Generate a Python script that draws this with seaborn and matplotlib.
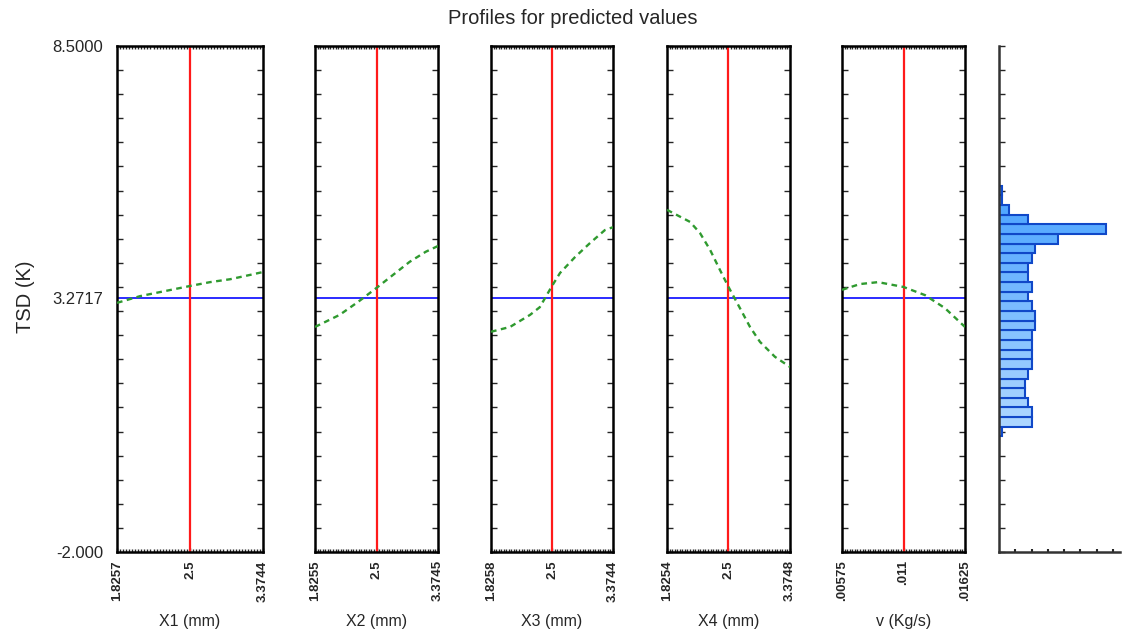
import numpy as np
import pandas as pd
import matplotlib
matplotlib.use("Agg")
import matplotlib.pyplot as plt
import seaborn as sns
from matplotlib.colors import to_rgb

sns.set_style("white")
plt.rcParams["font.family"] = ["Liberation Sans", "DejaVu Sans"]

# ---- data ---------------------------------------------------------------
y_min, y_max = -2.0, 8.5
y_ref = 3.2717                       # reference level of the response

factor_names = ["X1 (mm)", "X2 (mm)", "X3 (mm)", "X4 (mm)", "v (Kg/s)"]
factor_low = [1.8257, 1.8255, 1.8258, 1.8254, 0.00575]
factor_mid = [2.5, 2.5, 2.5, 2.5, 0.011]
factor_high = [3.3744, 3.3745, 3.3744, 3.3748, 0.01625]
tick_text = [
    ["1.8257", "2.5", "3.3744"],
    ["1.8255", "2.5", "3.3745"],
    ["1.8258", "2.5", "3.3744"],
    ["1.8254", "2.5", "3.3748"],
    [".00575", ".011", ".01625"],
]

# predicted profile of TSD along each factor
x1_vals = [1.8257, 2.04, 2.5, 2.74, 2.98, 3.22, 3.3744]
x1_pred = [3.17, 3.31, 3.52, 3.60, 3.66, 3.75, 3.81]

x2_vals = [1.8255, 2.095, 2.298, 2.5, 2.97, 3.20, 3.3745]
x2_pred = [2.67, 2.92, 3.19, 3.48, 4.02, 4.23, 4.35]

x3_vals = [1.8258, 2.036, 2.257, 2.365, 2.5, 2.615, 2.83, 3.044, 3.258, 3.3744]
x3_pred = [2.57, 2.67, 2.92, 3.08, 3.52, 3.79, 4.12, 4.41, 4.68, 4.74]

x4_vals = [1.8254, 2.078, 2.187, 2.298, 2.407, 2.5, 2.663, 2.806, 2.948, 3.161, 3.3748]
x4_pred = [5.10, 4.85, 4.62, 4.27, 3.85, 3.50, 3.06, 2.67, 2.36, 2.05, 1.84]

v_vals = [0.00575, 0.00728, 0.00883, 0.011, 0.01284, 0.01454, 0.01625]
v_pred = [3.44, 3.56, 3.60, 3.50, 3.33, 3.06, 2.67]

profiles = [(x1_vals, x1_pred), (x2_vals, x2_pred), (x3_vals, x3_pred),
            (x4_vals, x4_pred), (v_vals, v_pred)]

# distribution of observed TSD values (bins of 0.2 K from 0.4 K upward)
hist_start = 0.4
hist_bin = 0.2
hist_counts = [1, 10, 10, 9, 8, 8, 9, 10, 10, 10, 10, 11, 11, 10, 9, 10, 9, 9,
               10, 11, 18, 33, 9, 3, 1, 1]

# ---- layout -------------------------------------------------------------
W, H = 1124, 629
fig = plt.figure(figsize=(W / 100, H / 100), dpi=100)

panel_px = [(117, 146), (315, 123), (491, 122), (667, 123), (842, 123)]
top_px, bot_px = 46, 552


def rect(x0, w):
    return [x0 / W, 1 - bot_px / H, w / W, (bot_px - top_px) / H]


def centred_scale(lo, mid, hi):
    def fwd(x):
        x = np.asarray(x, float)
        return np.where(x < mid, 0.5 * (x - lo) / (mid - lo),
                        0.5 + 0.5 * (x - mid) / (hi - mid))

    def inv(u):
        u = np.asarray(u, float)
        return np.where(u < 0.5, lo + 2 * u * (mid - lo),
                        mid + (2 * u - 1) * (hi - mid))
    return fwd, inv


text_col = "#262626"
green = "#2f9a2f"

for i, (name, lo, mid, hi, labels, (xs, ys)) in enumerate(
        zip(factor_names, factor_low, factor_mid, factor_high, tick_text, profiles)):
    ax = fig.add_axes(rect(*panel_px[i]))
    fwd, inv = centred_scale(lo, mid, hi)
    ax.set_xscale("function", functions=(fwd, inv))
    ax.set_xlim(lo, hi)
    ax.set_ylim(y_min, y_max)

    df = pd.DataFrame({"x": xs, "y": ys})
    ax.axhline(y_ref, color="#1a1aff", lw=1.3, zorder=2)
    ax.axvline(mid, color="#ff1a1a", lw=1.6, zorder=2)
    sns.lineplot(data=df, x="x", y="y", ax=ax, color=green, lw=1.7,
                 zorder=3, sort=False)
    ax.lines[-1].set_dashes((2.4, 1.9))

    ax.set_xticks([lo, mid, hi])
    ax.set_xticklabels(labels, rotation=90, fontsize=9.5, fontweight="bold",
                       color=text_col)
    ax.set_xticks(inv(np.linspace(0, 1, 49)), minor=True)
    ax.set_yticks(np.arange(y_min, y_max + 0.01, 0.5), minor=True)
    if i == 0:
        ax.set_yticks([y_min, y_ref, y_max])
        ax.set_yticklabels(["-2.000", "3.2717", "8.5000"], fontsize=12,
                           color=text_col)
    else:
        ax.set_yticks([])
    ax.tick_params(axis="x", which="major", direction="in", length=3,
                   width=1, pad=6, top=False, bottom=True)
    ax.tick_params(axis="x", which="minor", direction="in", length=2.5,
                   width=1, top=True, bottom=True)
    ax.tick_params(axis="y", which="major", length=0, pad=10)
    ax.tick_params(axis="y", which="minor", direction="in", length=4,
                   width=1, left=True, right=True)
    ax.set_xlabel(name, fontsize=11.5, color=text_col, labelpad=9)
    ax.set_ylabel("")
    for s in ax.spines.values():
        s.set_visible(True)
        s.set_color("black")
        s.set_linewidth(1.8)

# ---- histogram of the response -----------------------------------------
axh = fig.add_axes(rect(999, 121))
n_bins = len(hist_counts)
edges = [hist_start + hist_bin * k for k in range(n_bins + 1)]
hist_df = pd.DataFrame({"tsd": [e + hist_bin / 2 for e in edges[:-1]],
                        "n": hist_counts})
sns.histplot(data=hist_df, y="tsd", weights="n", bins=edges, ax=axh,
             edgecolor="#1048c8", linewidth=1.5, alpha=1)
c_hi = np.array(to_rgb("#4aa3ff"))
c_lo = np.array(to_rgb("#b0d8ff"))
for k, p in enumerate(sorted(axh.patches, key=lambda r: r.get_y())):
    t = k / (n_bins - 1)
    p.set_facecolor(tuple(c_lo + (c_hi - c_lo) * t))
axh.set_ylim(y_min, y_max)
axh.set_xlim(0, 37.2)
axh.set_xlabel("")
axh.set_ylabel("")
axh.set_xticks(np.arange(5, 37, 5))
axh.set_xticklabels([])
axh.set_yticks([])
axh.set_yticks(np.arange(y_min, y_max + 0.01, 0.5), minor=True)
axh.tick_params(axis="x", which="major", direction="in", length=2.5,
                width=1.5, bottom=True)
axh.tick_params(axis="y", which="minor", direction="in", length=4,
                width=1, left=True)
for side in ["top", "right"]:
    axh.spines[side].set_visible(False)
for side in ["left", "bottom"]:
    axh.spines[side].set_color("#333333")
    axh.spines[side].set_linewidth(1.8)

# ---- titles -------------------------------------------------------------
fig.text(573 / W, 1 - 19 / H, "Profiles for predicted values", ha="center",
         va="center", fontsize=14.5, color=text_col)
fig.text(26 / W, 1 - 297 / H, "TSD (K)", ha="center", va="center",
         rotation=90, fontsize=14.5, color=text_col)

fig.savefig("out.png", dpi=100)
